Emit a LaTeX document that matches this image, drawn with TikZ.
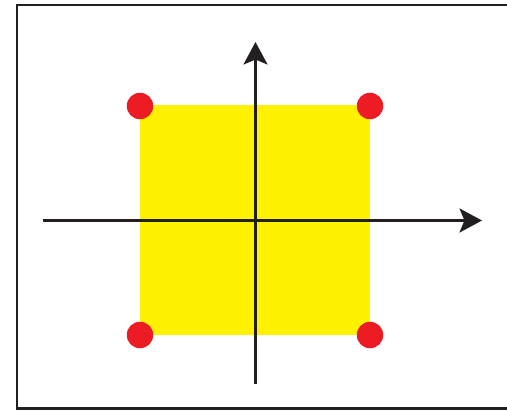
\documentclass[tikz,border=0pt]{standalone}
\usetikzlibrary{arrows.meta}
\definecolor{frameink}{HTML}{231F20}
\definecolor{sqyellow}{HTML}{FFF200}
\definecolor{dotred}{HTML}{ED1C24}
\definecolor{axisink}{HTML}{231F20}

\begin{document}
\begin{tikzpicture}[
  x=0.02cm, y=-0.02cm,
  frame/.style={draw=frameink, line width=1.7pt},
  sq/.style={fill=sqyellow},
  corner/.style={circle, fill=dotred, minimum size=0.53cm, inner sep=0pt},
  axis/.style={-{Stealth[length=0.45cm, width=0.48cm, inset=0.1cm]}, axisink, line width=1.7pt},
]
\useasboundingbox (0,0) rectangle (507,410);

% =========================== frame ===========================
\draw[frame] (17,5) rectangle (512,408.5);

% yellow square
\fill[sq] (140,105) rectangle (370,335);

% axes
\coordinate (xstart) at (43,220.5);
\coordinate (xend) at (482,220.5);
\coordinate (ystart) at (255.5,383.5);
\coordinate (yend) at (255.5,42);
\draw[axis] (xstart) -- (xend);
\draw[axis] (ystart) -- (yend);

% corner points
\node[corner] (tl) at (140,106) {};
\node[corner] (tr) at (370,106) {};
\node[corner] (bl) at (140,335) {};
\node[corner] (br) at (370,335) {};

\end{tikzpicture}
\end{document}
